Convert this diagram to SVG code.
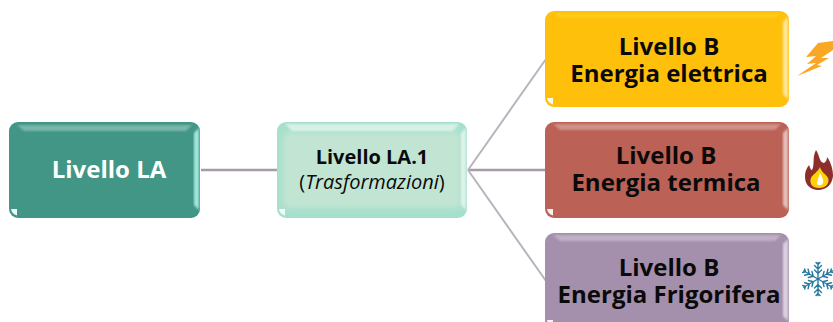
<svg xmlns="http://www.w3.org/2000/svg" width="833" height="322" viewBox="0 0 833 322">
<defs>
<filter id="b" x="-10%" y="-10%" width="120%" height="120%"><feGaussianBlur stdDeviation="0.9"/></filter>
<filter id="b2" x="-10%" y="-10%" width="120%" height="120%"><feGaussianBlur stdDeviation="3"/></filter>
<g id="arm"><path d="M0 0V-16.500M0 -5.500L-3.500 -9M0 -5.500L3.500 -9M0 -10L-3.500 -13.500M0 -10L3.500 -13.500M0 -14.500L-2 -16.500M0 -14.500L2 -16.500"/></g>
</defs>
<style>
text{font-family:"Open Sans","Noto Sans","DejaVu Sans",sans-serif;text-anchor:middle}
.t{font-weight:700;font-size:24px;fill:#0a0a0a}
.w{fill:#fff}
.c{stroke:#b9b3bf;stroke-width:2;fill:none}
.c2{stroke:#a79bab;stroke-width:2.5;fill:none}
.hl{fill:#fff;fill-opacity:.3;filter:url(#b)}
.hr{fill:#fff;fill-opacity:.6;filter:url(#b)}
.cn{fill:#fff;fill-opacity:.9}
</style>
<g id="connectors">
<path class="c2" d="M201 170H277"/>
<path class="c2" d="M468 170H545"/>
<path class="c" d="M468 170L546 59"/>
<path class="c" d="M468 170L546 281"/>
</g>
<g id="node-la">
<rect x="9" y="122" width="191" height="96" rx="9" fill="#419685"/>
<path class="hl" d="M17 125H192L186 131H24Z"/>
<path class="hr" d="M199 128V210L194 205V133Z" style="fill:#b5f5ea;fill-opacity:.85"/>
<path class="cn" d="M11 209h6v6.500a8 8 0 0 1-6-6.500z"/>
<text class="t w" x="109" y="178">Livello LA</text>
</g>
<g id="node-la1">
<rect x="277" y="122" width="190" height="96" rx="9" fill="#a6e0cc"/>
<rect x="283" y="132" width="178" height="76" rx="6" fill="#c2e5d3" filter="url(#b2)"/>
<path class="hl" d="M285 124H459L453 131H292Z" style="fill-opacity:.55"/>
<path class="hr" d="M466 128V210L461 205V133Z"/>
<path class="cn" d="M279 209h6v6.500a8 8 0 0 1-6-6.500z"/>
<text x="372" y="164" fill="#0a0a0a"><tspan font-weight="700" font-size="20">Livello LA.1</tspan><tspan x="372" dy="24.500" font-size="20">(<tspan font-style="italic">Trasformazioni</tspan>)</tspan></text>
</g>
<g id="node-b1">
<rect x="545" y="11" width="244" height="96" rx="9" fill="#ffc00c"/>
<path class="hl" d="M553 13H781L775 18H560Z" style="fill:#ffd21f;fill-opacity:.7"/>
<path class="hr" d="M788 17V99L783 94V22Z"/>
<path class="cn" d="M547 98h6v6.500a8 8 0 0 1-6-6.500z"/>
<text class="t" x="669" y="55">Livello B<tspan x="669" dy="27">Energia elettrica</tspan></text>
</g>
<g id="node-b2">
<rect x="545" y="122" width="244" height="96" rx="9" fill="#bb6155"/>
<path class="hl" d="M553 124H781L775 130H560Z"/>
<path class="hr" d="M788 128V210L783 205V133Z"/>
<path class="cn" d="M547 209h6v6.500a8 8 0 0 1-6-6.500z"/>
<text class="t" x="666" y="164">Livello B<tspan x="666" dy="27">Energia termica</tspan></text>
</g>
<g id="node-b3">
<rect x="545" y="233" width="244" height="96" rx="9" fill="#a48fac"/>
<path class="hl" d="M553 235H781L775 241H560Z"/>
<path class="hr" d="M788 239V321L783 316V244Z"/>
<path class="cn" d="M547 320h6v6.500a8 8 0 0 1-6-6.500z"/>
<text class="t" x="669" y="276">Livello B<tspan x="669" dy="27">Energia Frigorifera</tspan></text>
</g>
<g id="icon-bolt">
<path d="M833 41L818 43L806 57L816 56L807 64L816 63L797 76L822 66L817 65L829 58L821 58L833 50Z" fill="#f9a825"/>
</g>
<g id="icon-flame">
<path d="M816 150C820 156 819 162 824 163C826 162 827 160 827 157C831 162 833 170 833 176C832 185 826 190 818 190C811 190 805 185 805 177C805 171 807 168 809 165C810 168 811 170 812 170C815 165 812 157 816 150Z" fill="#8c2f2b"/>
<path d="M820 167C821 172 826 174 828 178C830 183 826 188 819 188C812 188 809 183 811 178C813 174 818 172 820 167Z" fill="#fdd20a"/>
<path d="M820 173C822 177 824 180 823 183C822 186 817 186 817 183C817 180 819 177 820 173Z" fill="#fff"/>
</g>
<g id="icon-snow" stroke="#27799f" stroke-width="1.400" fill="none" stroke-linecap="round">
<use href="#arm" transform="translate(818 279)"/>
<use href="#arm" transform="translate(818 279) rotate(60)"/>
<use href="#arm" transform="translate(818 279) rotate(120)"/>
<use href="#arm" transform="translate(818 279) rotate(180)"/>
<use href="#arm" transform="translate(818 279) rotate(240)"/>
<use href="#arm" transform="translate(818 279) rotate(300)"/>
</g>
</svg>
